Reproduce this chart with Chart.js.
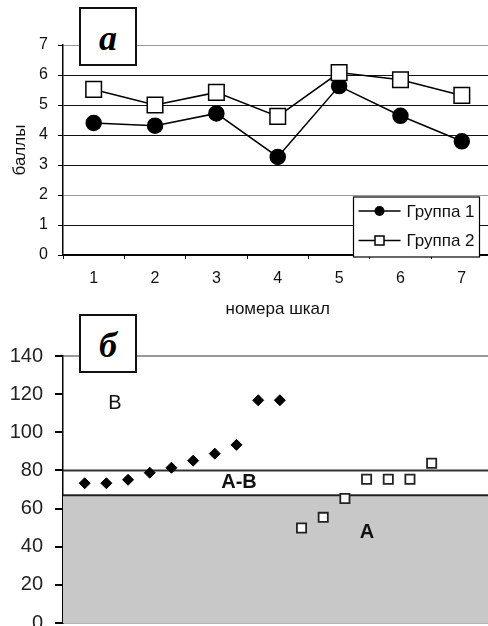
<!DOCTYPE html>
<html>
<head>
<meta charset="utf-8">
<script src="https://cdn.jsdelivr.net/npm/chart.js@4.4.0/dist/chart.umd.min.js"></script>
<style>
html, body { margin: 0; padding: 0; overflow: hidden; background: #fff; }
#wrap { position: relative; width: 488px; height: 626px; overflow: hidden; }
canvas { position: absolute; left: 0; }
.tag { position: absolute; left: 79px; width: 58px; height: 59px; box-sizing: border-box;
       border: 2px solid #111; background: #fff; text-align: center;
       font: bold italic 36px "Liberation Serif", "DejaVu Serif", serif; line-height: 58px; }
.zone { position: absolute; font-family: "Liberation Sans", Arial, sans-serif; font-size: 20px;
        line-height: 20px; transform: translate(-50%, -50%); color: #111; white-space: nowrap; }
.zone.b { font-weight: bold; }
</style>
</head>
<body>
<div id="wrap">
  <canvas id="top" width="505" height="320" style="top:0"></canvas>
  <canvas id="bottom" width="505" height="327" style="top:320px"></canvas>
  <div class="tag" style="top:7px">а</div>
  <div class="tag" style="top:314px">б</div>
  <div class="zone" style="left:115px; top:402px">В</div>
  <div class="zone b" style="left:239px; top:481px">А-В</div>
  <div class="zone b" style="left:367px; top:531px">А</div>
</div>
<script>
// --- chart a: mean scores per scale ---
var scales = ["1", "2", "3", "4", "5", "6", "7"];
var group1 = [4.4, 4.31, 4.72, 3.27, 5.63, 4.64, 3.79];
var group2 = [5.52, 5.0, 5.42, 4.62, 6.08, 5.84, 5.32];
var scoreTicks = [0, 1, 2, 3, 4, 5, 6, 7];

// --- chart b: individual results and zones ---
var diamondX = [1, 2, 3, 4, 5, 6, 7, 8, 9, 10];
var diamondY = [73.3, 73.3, 75.1, 78.8, 81.4, 85.1, 88.8, 93.4, 116.8, 116.8];
var squareX = [11, 12, 13, 14, 15, 16, 17];
var squareY = [49.8, 55.4, 65.3, 75.4, 75.4, 75.4, 83.8];
var zoneATop = 67;
var zoneABTop = 80;
var xRange = [0, 20];
var pointsTicks = [0, 20, 40, 60, 80, 100, 120, 140];

Chart.defaults.font.family = '"Liberation Sans", Arial, sans-serif';
Chart.defaults.color = '#111';
Chart.defaults.animation = false;

function toPoints(xs, ys) {
    return xs.map(function(x, i) { return {x: x, y: ys[i]}; });
}

// legend drawn in a box inside the plot, bottom right
var legendBox = {
    id: 'legendBox',
    afterDraw: function(chart) {
        var ctx = chart.ctx;
        var area = chart.chartArea;
        var x0 = area.right - 139, y0 = area.bottom - 58;
        ctx.save();
        ctx.fillStyle = '#fff';
        ctx.fillRect(x0, y0, 126, 60);
        ctx.strokeStyle = '#000';
        ctx.lineWidth = 1.2;
        ctx.strokeRect(x0, y0, 126, 60);
        chart.data.datasets.forEach(function(ds, i) {
            var cy = y0 + 14 + i * 29.5;
            ctx.strokeStyle = '#000';
            ctx.lineWidth = 1.5;
            ctx.beginPath();
            ctx.moveTo(x0 + 5, cy);
            ctx.lineTo(x0 + 47, cy);
            ctx.stroke();
            if (ds.pointStyle === 'circle') {
                ctx.fillStyle = '#000';
                ctx.beginPath();
                ctx.arc(x0 + 26, cy, 5, 0, Math.PI * 2);
                ctx.fill();
            } else {
                ctx.fillStyle = '#fff';
                ctx.fillRect(x0 + 21.5, cy - 4.5, 9, 9);
                ctx.strokeRect(x0 + 21.5, cy - 4.5, 9, 9);
            }
            ctx.fillStyle = '#111';
            ctx.font = '17px "Liberation Sans", Arial, sans-serif';
            ctx.textBaseline = 'middle';
            ctx.textAlign = 'left';
            ctx.fillText(ds.label, x0 + 53, cy + 1);
        });
        ctx.restore();
    }
};

new Chart(document.getElementById("top"), {
    type: 'line',
    data: {
        labels: scales,
        datasets: [{
            label: 'Группа 1',
            data: group1,
            order: 1,
            borderColor: '#000',
            borderWidth: 1.5,
            pointStyle: 'circle',
            pointRadius: 7.5,
            pointBackgroundColor: '#000',
            pointBorderColor: '#000'
        }, {
            label: 'Группа 2',
            data: group2,
            order: 0,
            borderColor: '#000',
            borderWidth: 1.5,
            pointStyle: 'rect',
            pointRadius: 11,
            pointBackgroundColor: '#fff',
            pointBorderColor: '#000',
            pointBorderWidth: 1.5
        }]
    },
    options: {
        responsive: false,
        layout: {padding: {top: 45, right: 7, left: 0, bottom: 0}},
        plugins: {legend: {display: false}, tooltip: {enabled: false}},
        scales: {
            x: {
                offset: true,
                grid: {offset: true, drawOnChartArea: false, tickLength: 4, color: '#000'},
                border: {color: '#000', width: 1.5},
                ticks: {font: {size: 16}, padding: 10, maxRotation: 0},
                title: {display: true, text: 'номера шкал', font: {size: 17}, padding: {top: 0, bottom: 0}},
                afterFit: function(s) { s.height = 65; }
            },
            y: {
                min: 0,
                max: 7,
                afterBuildTicks: function(s) { s.ticks = scoreTicks.map(function(v) { return {value: v}; }); },
                grid: {
                    tickLength: 5,
                    tickColor: '#000',
                    color: function(c) {
                        var v = c.tick && c.tick.value;
                        return (v === 7 || v === 2) ? '#999' : '#111';
                    }
                },
                border: {color: '#000', width: 1.5},
                ticks: {font: {size: 16}, padding: 10},
                title: {display: true, text: 'баллы', font: {size: 17}, padding: {top: 10, bottom: 0}},
                afterFit: function(s) { s.width = 63; }
            }
        }
    },
    plugins: [legendBox]
});

new Chart(document.getElementById("bottom"), {
    type: 'scatter',
    data: {
        datasets: [{
            label: 'А',
            data: toPoints(xRange, [zoneATop, zoneATop]),
            showLine: true,
            fill: 'origin',
            backgroundColor: '#c8c8c8',
            borderColor: '#222',
            borderWidth: 2,
            pointRadius: 0,
            order: 3
        }, {
            label: 'А-В',
            data: toPoints(xRange, [zoneABTop, zoneABTop]),
            showLine: true,
            fill: false,
            borderColor: '#333',
            borderWidth: 2,
            pointRadius: 0,
            order: 2
        }, {
            label: 'diamonds',
            data: toPoints(diamondX, diamondY),
            pointStyle: 'rectRot',
            pointRadius: 5.5,
            pointBackgroundColor: '#000',
            pointBorderColor: '#000',
            pointBorderWidth: 1,
            order: 1
        }, {
            label: 'squares',
            data: toPoints(squareX, squareY),
            pointStyle: 'rect',
            pointRadius: 6.5,
            pointBackgroundColor: '#fff',
            pointBorderColor: '#222',
            pointBorderWidth: 1.8,
            order: 0
        }]
    },
    options: {
        responsive: false,
        layout: {padding: {top: 36, right: 3, left: 0, bottom: 0}},
        plugins: {legend: {display: false}, tooltip: {enabled: false}},
        scales: {
            x: {
                type: 'linear',
                min: xRange[0],
                max: xRange[1],
                grid: {display: false},
                border: {color: '#666', width: 1.5},
                ticks: {display: false},
                afterFit: function(s) { s.height = 4; }
            },
            y: {
                min: 0,
                max: 140,
                afterBuildTicks: function(s) { s.ticks = pointsTicks.map(function(v) { return {value: v}; }); },
                grid: {
                    tickLength: 8,
                    tickColor: '#000',
                    color: function(c) {
                        var v = c.tick && c.tick.value;
                        return v === 140 ? '#999' : 'rgba(0,0,0,0)';
                    },
                    lineWidth: 2
                },
                border: {color: '#000', width: 1.5},
                ticks: {font: {size: 20}, padding: 12, color: '#222'},
                afterFit: function(s) { s.width = 63; }
            }
        }
    }
});
</script>
</body>
</html>
